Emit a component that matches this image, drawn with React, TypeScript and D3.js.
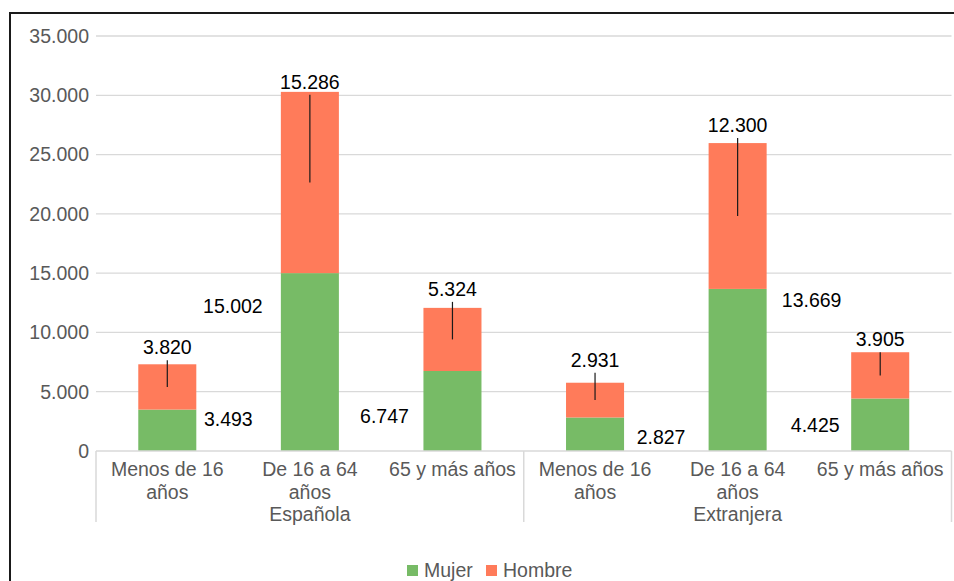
import React from 'react';
import * as d3 from 'd3';

// Población por nacionalidad, grupo de edad y sexo
const groups = ['Española', 'Extranjera'];
const ageLines = [['Menos de 16', 'años'], ['De 16 a 64', 'años'], ['65 y más años']];
const mujer = [3493, 15002, 6747, 2827, 13669, 4425];
const hombre = [3820, 15286, 5324, 2931, 12300, 3905];
const yTicks = [0, 5000, 10000, 15000, 20000, 25000, 30000, 35000];

// label placement (pixel offsets, Excel-like manual placement)
const mujerLabelOffset = [[61, -11], [-77, -56], [-68, 5], [66, 3], [74, -70], [-65, 0]];
const hombreLabelGap = [17, 10, 19, 23, 18, 13];

const GREEN = '#77bb66';
const ORANGE = '#ff7b5a';
const FONT = '"Liberation Sans", Arial, sans-serif';
const FS = 19.5;

const W = 954;
const H = 581;
const left = 96;
const right = 951.5;
const top = 36;
const bottom = 451;

const fmt = d3.formatLocale({ decimal: ',', thousands: '.', grouping: [3], currency: ['', ''] }).format(',');

const App: React.FC = () => {
  const n = mujer.length;
  const x = d3.scaleBand<number>()
    .domain(d3.range(n))
    .range([left, right])
    .paddingInner(0.593)
    .paddingOuter(0.2965);
  const y = d3.scaleLinear().domain([0, 35000]).range([bottom, top]);
  const step = (right - left) / n;
  const groupSize = ageLines.length;

  return (
    <svg width={W} height={H} style={{ position: 'absolute', left: 0, top: 0, fontFamily: FONT }}>
      <rect x={0} y={0} width={W} height={H} fill="#fff" />
      {/* frame */}
      <line x1={10} x2={W} y1={13} y2={13} stroke="#1a1a1a" strokeWidth={2} />
      <line x1={10} x2={10} y1={12} y2={H} stroke="#1a1a1a" strokeWidth={2} />

      {/* grid + y labels */}
      {yTicks.map(t => (
        <g key={t}>
          {t > 0 && <line x1={left} x2={right} y1={y(t)} y2={y(t)} stroke="#d9d9d9" strokeWidth={1.3} />}
          <text x={89} y={y(t)} dy="0.35em" textAnchor="end" fontSize={FS} fill="#595959">{fmt(t)}</text>
        </g>
      ))}

      {/* bars */}
      {mujer.map((m, i) => {
        const h = hombre[i];
        const bx = x(i)!;
        const bw = x.bandwidth();
        return (
          <g key={i}>
            <rect x={bx} y={y(m)} width={bw} height={y(0) - y(m)} fill={GREEN} />
            <rect x={bx} y={y(m + h)} width={bw} height={y(m) - y(m + h)} fill={ORANGE} />
          </g>
        );
      })}

      {/* category axis */}
      <line x1={left} x2={right} y1={bottom} y2={bottom} stroke="#d9d9d9" strokeWidth={1.5} />
      {d3.range(groups.length + 1).map(g => {
        const gx = left + g * groupSize * step;
        return <line key={g} x1={gx} x2={gx} y1={bottom} y2={522} stroke="#d9d9d9" strokeWidth={1.5} />;
      })}
      {d3.range(n).map(i => {
        const cx = x(i)! + x.bandwidth() / 2;
        const lines = ageLines[i % groupSize];
        return (
          <text key={i} x={cx} textAnchor="middle" fontSize={FS} fill="#595959">
            {lines.map((l, j) => <tspan key={j} x={cx} y={476 + j * 22.5}>{l}</tspan>)}
          </text>
        );
      })}
      {groups.map((g, k) => (
        <text key={g} x={left + (k + 0.5) * groupSize * step} y={521} textAnchor="middle" fontSize={FS} fill="#595959">{g}</text>
      ))}

      {/* data labels */}
      {mujer.map((m, i) => {
        const cx = x(i)! + x.bandwidth() / 2;
        const [dx, dy] = mujerLabelOffset[i];
        return (
          <text key={'m' + i} x={cx + dx} y={y(m / 2) + dy} dy="0.35em" textAnchor="middle" fontSize={FS} fill="#000">{fmt(m)}</text>
        );
      })}
      {hombre.map((h, i) => {
        const m = mujer[i];
        const cx = x(i)! + x.bandwidth() / 2;
        const ly = y(m + h) - hombreLabelGap[i];
        return (
          <g key={'h' + i}>
            <line x1={cx} x2={cx} y1={ly + 13} y2={y(m + h / 2)} stroke="#1a1a1a" strokeWidth={1.2} />
            <text x={cx} y={ly} dy="0.35em" textAnchor="middle" fontSize={FS} fill="#000">{fmt(h)}</text>
          </g>
        );
      })}

      {/* legend */}
      <rect x={407} y={565} width={11} height={11} fill={GREEN} />
      <text x={424} y={577} fontSize={FS} fill="#595959">Mujer</text>
      <rect x={486} y={565} width={11} height={11} fill={ORANGE} />
      <text x={503} y={577} fontSize={FS} fill="#595959">Hombre</text>
    </svg>
  );
};

export default App;
